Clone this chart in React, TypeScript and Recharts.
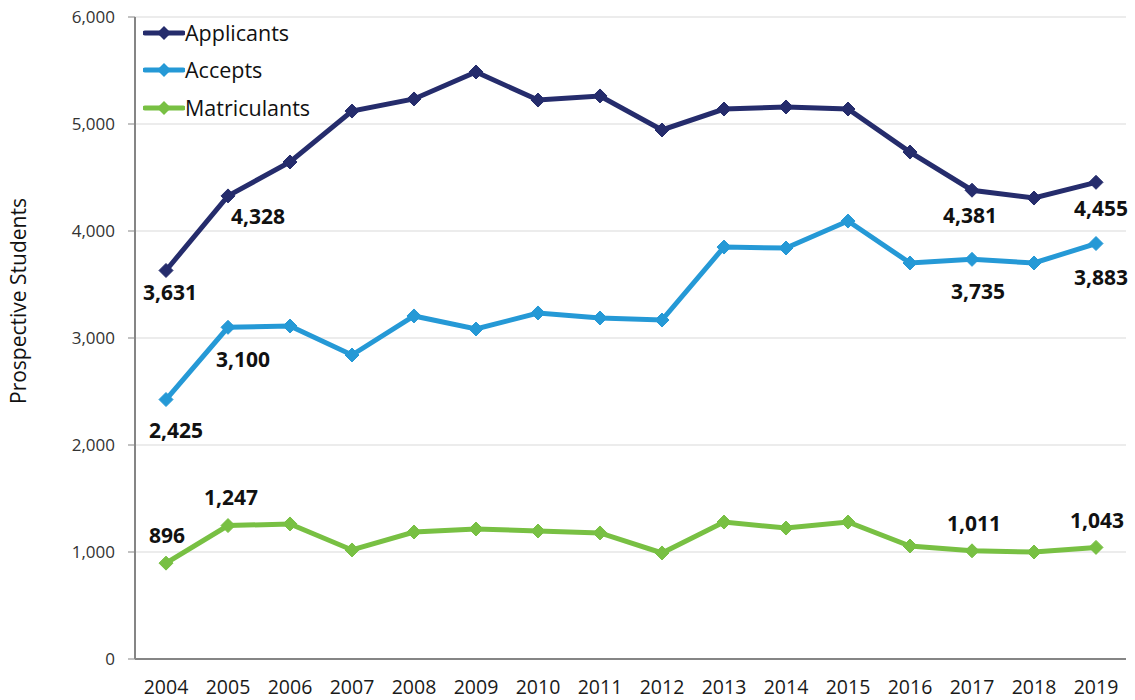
import React from 'react';
import { LineChart, Line, XAxis, YAxis, CartesianGrid, LabelList } from 'recharts';

const years = ['2004','2005','2006','2007','2008','2009','2010','2011','2012','2013','2014','2015','2016','2017','2018','2019'];
const applicants = [3631, 4328, 4645, 5121, 5234, 5486, 5224, 5262, 4944, 5140, 5159, 5140, 4738, 4381, 4308, 4455];
const accepts = [2425, 3100, 3112, 2841, 3206, 3084, 3234, 3187, 3168, 3850, 3841, 4093, 3701, 3735, 3701, 3883];
const matriculants = [896, 1247, 1262, 1019, 1187, 1215, 1196, 1178, 991, 1280, 1224, 1280, 1056, 1011, 1000, 1043];
const labeledYears = ['2004', '2005', '2017', '2019'];
const yTicks = [0, 1000, 2000, 3000, 4000, 5000, 6000];

const data = years.map((y, i) => ({
  year: y,
  applicants: applicants[i],
  accepts: accepts[i],
  matriculants: matriculants[i],
}));

const COLORS = { applicants: '#252C6C', accepts: '#2599D6', matriculants: '#78C043' };
const FONT = '"Open Sans", sans-serif';

const labelOffsets: Record<string, Record<string, [number, number]>> = {
  applicants: { '2004': [4, 22], '2005': [30, 20], '2017': [-2, 25], '2019': [5, 26] },
  accepts: { '2004': [10, 30], '2005': [15, 32], '2017': [6, 32], '2019': [5, 33] },
  matriculants: { '2004': [1, -28], '2005': [3, -29], '2017': [2, -28], '2019': [1, -27] },
};

const makeDot = (color: string) => (props: any) => {
  const { cx, cy, index } = props;
  if (cx == null || cy == null) return <g key={index} />;
  const r = 7;
  return (
    <path
      key={index}
      d={`M${cx},${cy - r}L${cx + r},${cy}L${cx},${cy + r}L${cx - r},${cy}Z`}
      fill={color}
      stroke={color}
      strokeWidth={1}
    />
  );
};

const makeLabel = (key: string) => (props: any) => {
  const { x, y, index, value } = props;
  const yr = years[index];
  if (!labeledYears.includes(yr)) return null;
  const off = labelOffsets[key][yr];
  return (
    <text
      key={`${key}-${index}`}
      x={x + off[0]}
      y={y + off[1]}
      textAnchor="middle"
      dominantBaseline="central"
      fontFamily={FONT}
      fontWeight={700}
      fontSize={21}
      fill="#111"
    >
      {Number(value).toLocaleString('en-US')}
    </text>
  );
};

const legendItems = [
  { name: 'Applicants', color: COLORS.applicants },
  { name: 'Accepts', color: COLORS.accepts },
  { name: 'Matriculants', color: COLORS.matriculants },
];

const LegendOverlay = () => (
  <div style={{ position: 'absolute', left: 143, top: 14, display: 'flex', flexDirection: 'column', pointerEvents: 'none' }}>
    {legendItems.map((it) => (
      <div key={it.name} style={{ display: 'flex', alignItems: 'center', height: 37.5 }}>
        <svg width={42} height={16} style={{ display: 'block' }}>
          <line x1={2} y1={8} x2={40} y2={8} stroke={it.color} strokeWidth={5} strokeLinecap="round" />
          <path d="M21,1L28,8L21,15L14,8Z" fill={it.color} />
        </svg>
        <span style={{ fontFamily: FONT, fontSize: 21.5, color: '#111', lineHeight: '22px', background: '#fff' }}>
          {it.name}
        </span>
      </div>
    ))}
  </div>
);

export default function App() {
  return (
    <div style={{ position: 'absolute', left: 0, top: 0, width: 1135, height: 700, background: '#fff' }}>
      <LineChart width={1135} height={700} data={data} margin={{ top: 17, right: 9, bottom: 11, left: 0 }}>
        <CartesianGrid vertical={false} stroke="#d9d9d9" strokeWidth={1} />
        <XAxis
          dataKey="year"
          height={30}
          padding={{ left: 31, right: 30 }}
          tickLine={false}
          tickSize={0}
          tickMargin={21}
          axisLine={{ stroke: '#858585', strokeWidth: 2 }}
          tick={{ fontFamily: FONT, fontSize: 19.5, fill: '#1a1a1a' }}
          interval={0}
        />
        <YAxis
          width={135}
          domain={[0, 6000]}
          ticks={yTicks}
          tickSize={7}
          tickMargin={13}
          tickLine={{ stroke: '#858585', strokeWidth: 1 }}
          axisLine={{ stroke: '#858585', strokeWidth: 2 }}
          tick={{ fontFamily: FONT, fontSize: 17, fill: '#333' }}
          tickFormatter={(v: number) => v.toLocaleString('en-US')}
          label={{
            value: 'Prospective Students',
            angle: -90,
            position: 'insideLeft',
            offset: 0,
            dx: 19,
            dy: -37,
            style: { fontFamily: FONT, fontSize: 21, fill: '#111', textAnchor: 'middle' },
          }}
        />
        <Line
          type="linear"
          dataKey="applicants"
          stroke={COLORS.applicants}
          strokeWidth={5}
          dot={makeDot(COLORS.applicants)}
          activeDot={false}
          isAnimationActive={false}
        >
          <LabelList dataKey="applicants" content={makeLabel('applicants')} />
        </Line>
        <Line
          type="linear"
          dataKey="accepts"
          stroke={COLORS.accepts}
          strokeWidth={5}
          dot={makeDot(COLORS.accepts)}
          activeDot={false}
          isAnimationActive={false}
        >
          <LabelList dataKey="accepts" content={makeLabel('accepts')} />
        </Line>
        <Line
          type="linear"
          dataKey="matriculants"
          stroke={COLORS.matriculants}
          strokeWidth={5}
          dot={makeDot(COLORS.matriculants)}
          activeDot={false}
          isAnimationActive={false}
        >
          <LabelList dataKey="matriculants" content={makeLabel('matriculants')} />
        </Line>
      </LineChart>
      <LegendOverlay />
    </div>
  );
}
